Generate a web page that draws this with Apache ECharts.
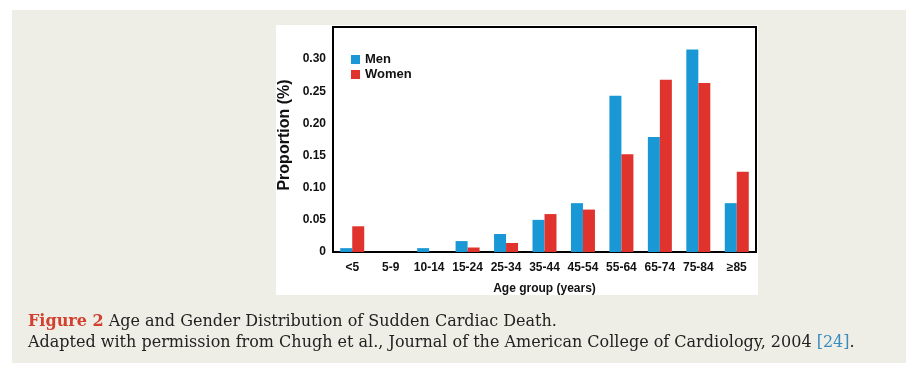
<!DOCTYPE html>
<html><head><meta charset="utf-8">
<script src="https://cdn.jsdelivr.net/npm/echarts@6/dist/echarts.min.js"></script>
<style>html,body{margin:0;padding:0;background:#fff}#c{width:918px;height:371px}</style>
</head><body><div id="c"></div>
<script>
const categories = ['<5', '5-9', '10-14', '15-24', '25-34', '35-44', '45-54', '55-64', '65-74', '75-84', '≥85'];
const men   = [0.006, 0, 0.006, 0.017, 0.028, 0.050, 0.076, 0.243, 0.179, 0.315, 0.076];
const women = [0.040, 0, 0, 0.007, 0.014, 0.059, 0.066, 0.152, 0.268, 0.263, 0.125];
const yTickValues = [0, 0.05, 0.10, 0.15, 0.20, 0.25, 0.30];

const chart = echarts.init(document.getElementById('c'), null, {renderer: 'canvas'});
const sans = 'Liberation Sans, Arial, sans-serif';
const serif = 'DejaVu Serif, serif';
chart.setOption({
  backgroundColor: '#ffffff',
  animation: false,
  graphic: [
    {type: 'rect', z: -10, shape: {x: 12, y: 10, width: 894, height: 353}, style: {fill: '#efeee6'}},
    {type: 'rect', z: -9, shape: {x: 276, y: 25, width: 482, height: 270}, style: {fill: '#ffffff'}},
    {type: 'text', z: 5, x: 285, y: 135, rotation: Math.PI / 2, style: {
      text: 'Proportion (%)', font: 'bold 16px ' + sans, fill: '#111',
      align: 'center', verticalAlign: 'middle', textAlign: 'center', textVerticalAlign: 'middle'
    }},
    {type: 'text', z: 5, left: 28, top: 314, style: {
      text: '{fig|Figure 2} Age and Gender Distribution of Sudden Cardiac Death.',
      font: '16px ' + serif, fill: '#222',
      rich: {fig: {fontFamily: serif, fontSize: 16, fontWeight: 'bold', fill: '#d2402f', color: '#d2402f'}}
    }},
    {type: 'text', z: 5, left: 28, top: 335, style: {
      text: 'Adapted with permission from Chugh et al., Journal of the American College of Cardiology, 2004 {ref|[24]}.',
      font: '16px ' + serif, fill: '#222',
      rich: {ref: {fontFamily: serif, fontSize: 16, fill: '#3a8cc0', color: '#3a8cc0'}}
    }}
  ],
  grid: {left: 333, right: 162, top: 27, bottom: 119, show: true, borderColor: '#000', borderWidth: 2, backgroundColor: 'transparent'},
  legend: {
    orient: 'vertical', left: 346, top: 48, itemWidth: 9, itemHeight: 9, itemGap: 2, icon: 'rect',
    textStyle: {fontFamily: sans, fontWeight: 'bold', fontSize: 13, color: '#111'},
    data: ['Men', 'Women']
  },
  xAxis: {
    type: 'category', data: categories,
    name: 'Age group (years)', nameLocation: 'middle', nameGap: 31,
    nameTextStyle: {fontFamily: sans, fontWeight: 'bold', fontSize: 12, color: '#111'},
    axisLine: {show: true, lineStyle: {color: '#000', width: 2}},
    axisTick: {show: false},
    axisLabel: {fontFamily: sans, fontWeight: 'bold', fontSize: 12, color: '#111', margin: 10, interval: 0}
  },
  yAxis: {
    type: 'value', min: 0, max: 0.35, interval: 0.05,
    axisLine: {show: true, lineStyle: {color: '#000', width: 2}},
    axisTick: {show: false},
    splitLine: {show: false},
    axisLabel: {fontFamily: sans, fontWeight: 'bold', fontSize: 12, color: '#111', margin: 7,
      formatter: v => {
        const hit = yTickValues.find(t => Math.abs(t - v) < 1e-9);
        if (hit === undefined) return '';
        return hit === 0 ? '0' : hit.toFixed(2);
      }}
  },
  series: [
    {name: 'Men', type: 'bar', data: men, barWidth: 12, barGap: '0%', itemStyle: {color: '#1a98d5'}},
    {name: 'Women', type: 'bar', data: women, barWidth: 12, barGap: '0%', itemStyle: {color: '#e1332d'}}
  ]
});
</script>
</body></html>
